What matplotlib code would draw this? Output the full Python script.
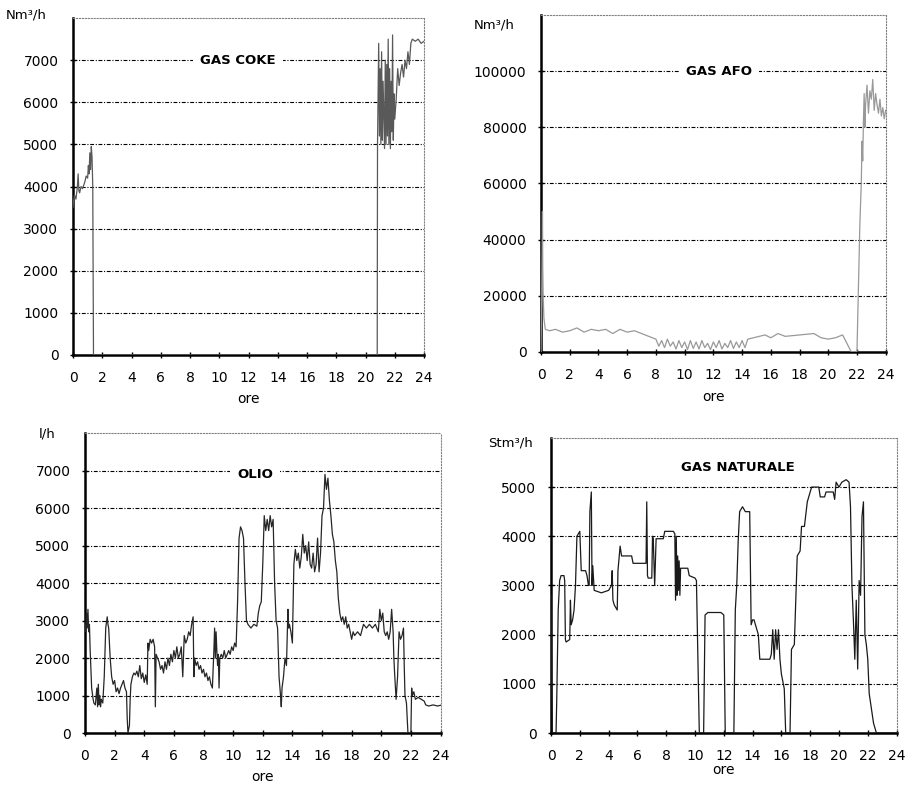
import numpy as np
import matplotlib
matplotlib.use('Agg')
import matplotlib.pyplot as plt

# ---- dati (ore, valore) ----
coke_t = [0, 0.02, 0.1, 0.2, 0.3, 0.35, 0.4, 0.45, 0.55, 0.65, 0.8, 0.9, 1.0, 1.05, 1.1, 1.15, 1.2, 1.25, 1.3, 1.35, 1.4, 1.45,
          20.8, 20.82, 20.9, 20.95, 21.0, 21.05, 21.1, 21.15, 21.2, 21.3, 21.35, 21.4, 21.45, 21.5, 21.55, 21.6, 21.65, 21.7,
          21.75, 21.8, 21.85, 21.9, 21.95, 22.0, 22.1, 22.2, 22.3, 22.4, 22.5, 22.6, 22.7, 22.8, 22.9, 23.0, 23.1, 23.2, 23.4,
          23.6, 23.8, 24.0]
coke_v = [3500, 3600, 3800, 3700, 4000, 4300, 3900, 3850, 4000, 3950, 4100, 4250, 4200, 4500, 4300, 4800, 4400, 4950, 4700, 4000, 0, 0,
          0, 5000, 7400, 5200, 6800, 5000, 7200, 5100, 6500, 4900, 7000, 5000, 6900, 5200, 7500, 5000, 6800, 4900,
          6500, 5300, 7600, 5100, 6200, 5600, 6100, 6800, 6400, 6700, 6900, 6600, 7000, 6800, 7200, 6900, 7400, 7500, 7450,
          7500, 7400, 7450]

afo_t = [0, 0.05, 0.1, 0.12, 0.15, 0.2, 0.3, 0.6, 1.0, 1.5, 2.0, 2.5, 3.0, 3.5, 4.0, 4.5, 5.0, 5.5, 6.0, 6.5, 7.0, 7.5, 8.0,
         8.2, 8.4, 8.6, 8.8, 9.0, 9.2, 9.4, 9.6, 9.8, 10.0, 10.2, 10.4, 10.6, 10.8, 11.0, 11.2, 11.4, 11.6, 11.8, 12.0, 12.2,
         12.4, 12.6, 12.8, 13.0, 13.2, 13.4, 13.6, 13.8, 14.0, 14.2, 14.4, 14.8, 15.2, 15.6, 16.0, 16.5, 17.0, 18.0, 19.0,
         19.5, 20.0, 20.5, 21.0, 21.3, 21.6, 22.0, 22.2, 22.3, 22.35, 22.4, 22.45, 22.5, 22.55, 22.6, 22.7, 22.8, 22.9, 23.0,
         23.1, 23.2, 23.3, 23.4, 23.5, 23.6, 23.7, 23.8, 23.9, 24.0]
afo_v = [0, 20000, 50000, 30000, 20000, 12000, 8000, 7500, 8000, 7000, 7500, 8500, 7000, 8000, 7500, 8000, 6500, 8000, 7000, 7500,
         6500, 5500, 4500, 2000, 4000, 1500, 4500, 2000, 3500, 1000, 4000, 1500, 3500, 800, 4000, 1200, 3500, 1000, 4000, 1500,
         3000, 800, 3500, 1500, 4000, 1000, 3000, 1500, 4000, 1200, 3500, 1500, 4000, 1500, 4500, 5000, 5500, 6000, 5000,
         6500, 5500, 6000, 6500, 5000, 4500, 5000, 6000, 3000, 0, 0, 45000, 60000, 75000, 68000, 82000, 92000, 80000, 88000,
         95000, 85000, 93000, 90000, 97000, 86000, 92000, 88000, 85000, 90000, 84000, 87000, 83000, 86000]

olio_t = [0, 0.05, 0.1, 0.15, 0.2, 0.25, 0.3, 0.35, 0.45, 0.55, 0.6, 0.7, 0.8, 0.85, 0.9, 0.95, 1.0, 1.05, 1.1, 1.2, 1.3,
          1.4, 1.5, 1.55, 1.6, 1.7, 1.8, 1.9, 2.0, 2.1, 2.2, 2.3, 2.4, 2.5, 2.6, 2.7, 2.8, 2.85, 2.9, 3.0, 3.05, 3.1,
          3.2, 3.3, 3.4, 3.5, 3.6, 3.7, 3.8, 3.9, 4.0, 4.1, 4.2, 4.25, 4.3, 4.4, 4.5, 4.6, 4.7, 4.75, 4.8, 4.9, 5.0,
          5.1, 5.2, 5.3, 5.4, 5.5, 5.6, 5.7, 5.8, 5.9, 6.0, 6.1, 6.2, 6.3, 6.4, 6.5, 6.6, 6.7, 6.8, 6.9, 7.0, 7.1,
          7.2, 7.3, 7.35, 7.4, 7.5, 7.6, 7.7, 7.8, 7.9, 8.0, 8.1, 8.2, 8.3, 8.4, 8.5, 8.6, 8.7, 8.75, 8.8, 8.85, 8.9,
          8.95, 9.0, 9.05, 9.1, 9.2, 9.3, 9.4, 9.5, 9.6, 9.7, 9.8, 9.9, 10.0, 10.1, 10.2, 10.3, 10.4, 10.5, 10.6, 10.7,
          10.8, 10.9, 11.0, 11.2, 11.4, 11.6, 11.7, 11.8, 11.9, 12.0, 12.1, 12.2, 12.3, 12.4, 12.5, 12.6, 12.7, 12.8,
          12.9, 13.0, 13.1, 13.2, 13.25, 13.3, 13.4, 13.5, 13.6, 13.7, 13.75, 13.8, 13.9, 14.0, 14.05, 14.1, 14.2, 14.3,
          14.4, 14.5, 14.6, 14.7, 14.8, 14.9, 15.0, 15.1, 15.2, 15.3, 15.4, 15.5, 15.6, 15.7, 15.8, 15.9, 16.0, 16.1,
          16.2, 16.3, 16.4, 16.5, 16.6, 16.7, 16.8, 16.9, 17.0, 17.1, 17.2, 17.3, 17.4, 17.5, 17.6, 17.7, 17.8, 17.9,
          18.0, 18.1, 18.2, 18.4, 18.6, 18.8, 19.0, 19.2, 19.4, 19.6, 19.8, 19.9, 20.0, 20.1, 20.2, 20.3, 20.4, 20.5,
          20.6, 20.7, 20.8, 20.85, 20.9, 21.0, 21.05, 21.1, 21.2, 21.3, 21.4, 21.5, 21.55, 21.6, 21.7, 21.75, 21.8, 21.9,
          22.0, 22.05, 22.1, 22.2, 22.3, 22.5, 22.7, 22.9, 23.0, 23.2, 23.5, 23.8, 24.0]
olio_v = [2900, 2700, 3200, 2800, 3300, 2700, 2900, 2200, 1200, 900, 800, 750, 1200, 700, 1300, 750, 1000, 700, 900, 800, 1500,
          2800, 3100, 2900, 2800, 2000, 1500, 1300, 1400, 1100, 1200, 1050, 1200, 1300, 1400, 1200, 1100, 400, 0, 200, 900, 1300,
          1500, 1600, 1550, 1650, 1500, 1800, 1450, 1600, 1350, 1550, 1300, 2400, 2200, 2500, 2400, 2500, 2300, 700, 2100, 2000, 1900,
          1700, 1800, 1600, 1900, 1700, 2000, 1800, 2100, 1900, 2200, 2000, 2300, 2000, 2100, 2300, 1500, 2600, 2400, 2500, 2700, 2600,
          2900, 3100, 1500, 2000, 1800, 1900, 1700, 1800, 1600, 1700, 1500, 1600, 1400, 1500, 1300, 1200, 2200, 2800, 2000, 2700, 2200,
          1800, 2100, 1200, 2000, 2100, 2000, 2200, 2000, 2100, 2200, 2100, 2300, 2200, 2400, 2300, 3500, 5200, 5500, 5400, 5200,
          4000, 3000, 2900, 2800, 2900, 2850, 3200, 3400, 3500, 4500, 5800, 5400, 5700, 5400, 5800, 5500, 5700, 4000,
          3000, 2800, 1500, 1000, 700, 1200, 1500, 2000, 1800, 3300, 2800, 2900, 2700, 2400, 3500, 4500, 4900, 4600,
          4800, 4400, 4700, 5300, 4800, 5000, 4600, 5100, 4500, 4400, 4800, 4300, 4500, 5200, 4300, 4800, 5800, 6000,
          6900, 6500, 6800, 6200, 5800, 5300, 5100, 4600, 4300, 3600, 3200, 3000, 3100, 2900, 3100, 2800, 2900, 2700,
          2500, 2700, 2600, 2700, 2600, 2900, 2800, 2900, 2800, 2900, 2700, 3300, 3000, 3200, 2700, 2600, 2700, 2500,
          2700, 3300, 2700, 2000, 1600, 900, 1200, 1500, 2700, 2500, 2600, 2800, 1800, 1000, 800, 400, 0, 0,
          0, 1200, 1000, 1100, 900, 950, 900, 850, 750, 720, 750, 720, 740]

nat_t = [0, 0.05, 0.1, 0.35, 0.4, 0.5, 0.6, 0.7, 0.9, 0.95, 1.0, 1.05, 1.3, 1.35, 1.4, 1.5, 1.6, 1.7, 1.8, 2.0, 2.1, 2.4,
         2.5, 2.6, 2.65, 2.7, 2.8, 2.85, 2.9, 3.0, 3.5, 4.0, 4.2, 4.25, 4.3, 4.4, 4.6, 4.65, 4.8, 4.9, 5.6, 5.7, 6.6,
         6.65, 6.7, 6.75, 7.0, 7.05, 7.1, 7.2, 7.3, 7.35, 7.8, 7.9, 8.5, 8.6, 8.65, 8.7, 8.75, 8.8, 8.85, 8.9, 8.95, 9.0,
         9.1, 9.5, 9.6, 10.0, 10.1, 10.3, 10.6, 10.7, 10.9, 11.8, 12.0, 12.1, 12.7, 12.8, 12.9, 13.0, 13.1, 13.3, 13.5,
         13.8, 13.9, 14.0, 14.1, 14.4, 14.5, 14.6, 15.2, 15.3, 15.4, 15.5, 15.6, 15.7, 15.8, 15.9, 16.0, 16.2, 16.3, 16.6,
         16.7, 16.9, 17.1, 17.3, 17.4, 17.6, 17.8, 18.0, 18.1, 18.6, 18.7, 19.0, 19.1, 19.6, 19.7, 19.8, 20.0, 20.2,
         20.5, 20.7, 20.8, 20.9, 21.0, 21.1, 21.2, 21.3, 21.4, 21.5, 21.6, 21.7, 21.8, 21.9, 22.0, 22.1, 22.4, 22.6, 24.0]
nat_v = [2800, 1000, 0, 0, 700, 2500, 3100, 3200, 3200, 3100, 1900, 1850, 1900, 2700, 2200, 2300, 2500, 3000, 4000, 4100, 3300, 3300,
         3200, 3000, 3000, 4500, 4900, 3000, 3400, 2900, 2850, 2900, 3000, 3300, 2700, 2600, 2500, 3300, 3800, 3600, 3600, 3450, 3450,
         4700, 3200, 3150, 3150, 4000, 3950, 3000, 3950, 3950, 3950, 4100, 4100, 4050, 2700, 4000, 2800, 3600, 2900, 3500, 2800, 3350,
         3350, 3350, 3200, 3150, 3100, 0, 0, 2400, 2450, 2450, 2400, 0, 0, 2500, 3000, 3900, 4500, 4600, 4500,
         4500, 2200, 2300, 2300, 2000, 1500, 1500, 1500, 1600, 2100, 1500, 2100, 1700, 2100, 1500, 1200, 900, 0, 0,
         1700, 1800, 3600, 3700, 4200, 4200, 4700, 4900, 5000, 5000, 4800, 4800, 4900, 4900, 4750, 5100, 5000, 5100,
         5150, 5100, 4600, 3000, 2300, 1500, 2700, 1300, 3100, 2800, 4400, 4700, 2000, 1800, 1500, 800, 200, 0, 0]

panels = [
    dict(t=coke_t, v=coke_v, ymax=8000, yticks=[0, 1000, 2000, 3000, 4000, 5000, 6000, 7000],
         title='GAS COKE', tx=11.3, ty=7000, unit='Nm³/h', color='0.35'),
    dict(t=afo_t, v=afo_v, ymax=120000, yticks=[0, 20000, 40000, 60000, 80000, 100000],
         title='GAS AFO', tx=12.4, ty=100000, unit='Nm³/h', color='0.6'),
    dict(t=olio_t, v=olio_v, ymax=8000, yticks=[0, 1000, 2000, 3000, 4000, 5000, 6000, 7000],
         title='OLIO', tx=11.5, ty=6900, unit='l/h', color='0.15'),
    dict(t=nat_t, v=nat_v, ymax=6000, yticks=[0, 1000, 2000, 3000, 4000, 5000],
         title='GAS NATURALE', tx=13.0, ty=5400, unit='Stm³/h', color='0.1'),
]

# posizioni assi in frazione di figura
rects = [[0.0805, 0.549, 0.387, 0.428],
         [0.5965, 0.553, 0.380, 0.428],
         [0.0937, 0.0686, 0.392, 0.381],
         [0.6075, 0.0686, 0.381, 0.375]]
unit_pos = [(0.006, 0.981), (0.522, 0.968), (0.043, 0.449), (0.538, 0.437)]
xlab_pad = [5, 6, 5, 0]

fig = plt.figure(figsize=(9.07, 7.87), dpi=100)
fig.patch.set_facecolor('white')

for p, r, up, lp in zip(panels, rects, unit_pos, xlab_pad):
    ax = fig.add_axes(r)
    ax.plot(p['t'], p['v'], color=p['color'], lw=0.9, zorder=3)
    ax.set_xlim(0, 24)
    ax.set_ylim(0, p['ymax'])
    ax.set_xticks(range(0, 25, 2))
    ax.set_yticks(p['yticks'])
    ax.grid(axis='y', color='black', linestyle=(0, (3.5, 1.5, 1, 1.5)), linewidth=0.8)
    ax.tick_params(direction='inout', length=5, width=1, labelsize=10)
    ax.tick_params(axis='y', pad=8)
    ax.tick_params(axis='x', pad=9)
    ax.spines['left'].set_linewidth(1.8)
    ax.spines['bottom'].set_linewidth(1.8)
    for s in ['top', 'right']:
        ax.spines[s].set_linestyle(':')
        ax.spines[s].set_color('0.5')
        ax.spines[s].set_linewidth(0.8)
    ax.set_xlabel('ore', fontsize=10, labelpad=lp)
    ax.text(p['tx'], p['ty'], p['title'], ha='center', va='center', fontsize=9.5,
            fontweight='bold', bbox=dict(facecolor='white', edgecolor='none', pad=5), zorder=4)
    fig.text(up[0], up[1], p['unit'], fontsize=9.5, ha='left', va='center')

fig.savefig('out.png', dpi=100)
